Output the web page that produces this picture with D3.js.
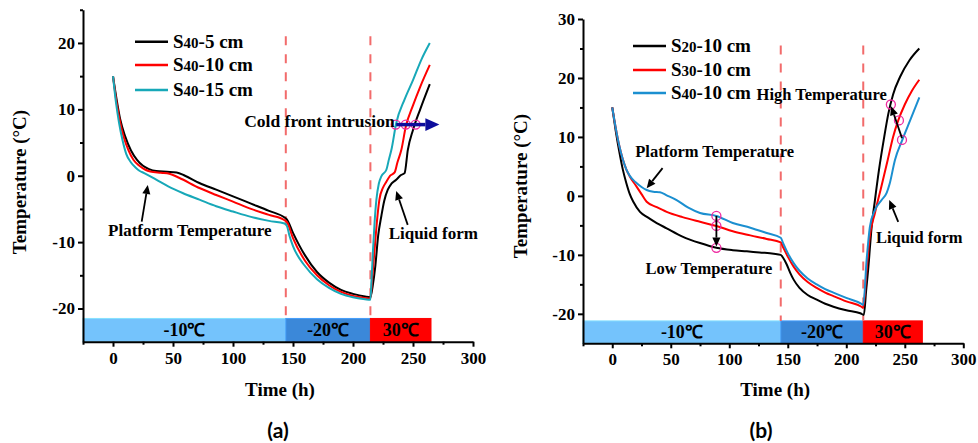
<!doctype html>
<html>
<head>
<meta charset="utf-8">
<script src="https://d3js.org/d3.v7.min.js"></script>
<style>
  body { margin: 0; background: #fff; }
  text { font-family: "Liberation Serif", "Times New Roman", serif; font-weight: bold; fill: #000; }
  .panel-label { font-family: Lato, "Open Sans", sans-serif; font-size: 21px; font-weight: bold; }
</style>
</head>
<body>
<svg id="svg1" width="978" height="443"></svg>
<script>
// ---- data (time h, temperature C) ----
let a5cm = [[0,15],[3,11.5],[6,8.5],[10,6],[15,3.8],[20,2.4],[25,1.5],[30,1.0],[36,0.7],[45,0.6],[53,0.5],[60,0],[72,-1.1],[86,-2.1],[100,-3.1],[115,-4.2],[130,-5.3],[143,-6.3],[145,-6.6],[150,-8.6],[160,-12],[170,-14.5],[180,-16.1],[190,-17.2],[200,-17.8],[210,-18.2],[214.5,-18.3],[216.5,-16.5],[218.6,-13.6],[221,-9],[223.6,-6.1],[226,-3.8],[229,-2.1],[232,-1.2],[236,-0.6],[240,0.1],[243,0.4],[245.7,3.9],[250,6.9],[256,10],[264,13.8]];
let a10cm = [[0,15],[3,11],[6,8],[9,5.8],[13,3.8],[17,2.4],[22,1.5],[27,0.9],[31,0.65],[40,0.45],[47,0.3],[55,-0.3],[72,-1.85],[86,-2.9],[100,-3.9],[115,-5],[130,-5.9],[143,-6.7],[145,-7],[150,-9.4],[160,-12.8],[170,-15],[180,-16.5],[190,-17.5],[200,-18.1],[210,-18.4],[214.5,-18.5],[216,-15.5],[218,-11.1],[220,-6.8],[222,-3.6],[225,-1.8],[227.8,-0.9],[231,0],[234.7,0.5],[237,2],[240.3,3.9],[244,7.4],[250,10.6],[256,13.4],[264,16.7]];
let a15cm = [[0,15],[2.5,11],[5,8],[8,5.3],[11,3.3],[15,2.0],[19,1.2],[22,0.75],[26,0.4],[36,-0.6],[46,-1.6],[58,-2.6],[72,-3.6],[86,-4.6],[100,-5.4],[115,-6.2],[130,-6.8],[143,-7.2],[145,-7.6],[147,-9],[150,-10.6],[160,-13.6],[170,-15.6],[180,-16.9],[190,-17.8],[200,-18.3],[210,-18.6],[214.5,-18.7],[215.5,-15.5],[216.7,-11.1],[218,-7],[219.5,-3.6],[221.5,-1.2],[223.6,-0.1],[227.8,0.9],[230,2.5],[232,3.9],[236,7.9],[243,11.5],[250,14.4],[257,17.5],[264,20]];

let b20 = [[0,15],[3,11],[6,7.5],[9,4.5],[12,2.2],[15,0.3],[18,-1],[23.7,-2.7],[30,-3.6],[38,-4.6],[46.5,-5.5],[60,-6.9],[75,-8],[89,-8.8],[103,-9.2],[115,-9.4],[126,-9.6],[138,-9.8],[144,-10],[146,-10.5],[149,-11.6],[152,-13],[155,-14.2],[160,-15.6],[167,-16.8],[174.7,-17.6],[182,-18.3],[189,-18.8],[200,-19.4],[212,-19.9],[215,-20.2],[217,-16],[218.7,-12.5],[221.7,-5.2],[224.5,-0.7],[228,4.5],[232,9.5],[236,14],[240,17.2],[246,20.2],[254,23],[262.4,25]];
let b30 = [[0,15],[3,11.5],[6,8.5],[9,6.2],[12,4.5],[15,3.3],[20,1.8],[25,0.3],[29.4,-1],[38,-1.9],[46.5,-2.7],[60,-3.6],[75,-4.4],[89,-5.1],[103,-6],[118,-6.7],[132,-7.3],[144,-7.9],[146,-8.7],[150,-10.3],[155,-12],[160,-13.3],[167,-14.6],[174.7,-15.6],[182,-16.4],[189,-17],[200,-17.9],[213,-18.8],[214.5,-19],[217.4,-12.5],[220,-7],[224.5,-2.9],[230,1.6],[235.4,6.1],[240,10],[244.4,12.8],[250,15.5],[256,17.8],[262.4,19.7]];
let b40 = [[0,15],[3,11.5],[6,8.5],[9,6.2],[12,4.5],[15,3.4],[20,2.3],[25,1.5],[29.4,1.0],[35,0.7],[40.8,0.6],[46.5,0.1],[55,-0.7],[65,-2],[75,-2.9],[89,-3.4],[103,-4.6],[118,-5.4],[132,-6.3],[144,-7.1],[146,-8],[150,-9.7],[155,-11.4],[160,-12.7],[167,-14],[174.7,-15],[182,-15.8],[189,-16.4],[200,-17.3],[213,-18.3],[214.5,-18.5],[217.4,-10.8],[220.2,-5.2],[224.5,-2.4],[230.2,-0.7],[234.5,0.5],[237,2],[241.6,6.1],[247.9,9.5],[255,13],[262.4,16.7]];

// temperature stages: [start, end, label]
let stages = [[-25,144,"-10℃"],[144,214.5,"-20℃"],[214.5,265,"30℃"]];
let stageColors = ["#74c3fc","#3b88d9","#ff0000"];
let phaseLines = [144, 214.5];

let legendA = [["40","-5 cm"],["40","-10 cm"],["40","-15 cm"]];
let legendB = [["20","-10 cm"],["30","-10 cm"],["40","-10 cm"]];

let circlesA = [[235.6,7.7],[244,7.7],[252.2,7.7]];
let circlesB = [[238.1,15.5],[245,12.8],[247.6,9.5],[89,-3.4],[89,-5.1],[89,-8.8]];

let svg = d3.select("#svg1");
let serif = '"Liberation Serif", "Times New Roman", serif';

function drawPanel(p) {
  let g = svg.append("g");
  let x = d3.scaleLinear().domain([-25,300]).range(p.xr);
  let y = d3.scaleLinear().domain(p.yd).range(p.yr);

  // stage bars
  g.selectAll(".stage").data(stages).join("rect")
    .attr("x", d => x(d[0])).attr("width", d => x(d[1]) - x(d[0]))
    .attr("y", y(p.barTop)).attr("height", y(-25) - y(p.barTop))
    .attr("fill", (d,i) => stageColors[i])
    .attr("stroke", (d,i) => d3.color(stageColors[i]).brighter(0.4)).attr("stroke-width", 1);
  g.selectAll(".stagelbl").data(stages).join("text")
    .attr("x", d => (x(d[0]) + x(d[1])) / 2).attr("y", (y(p.barTop) + y(-25)) / 2 + 6)
    .attr("text-anchor", "middle").style("font-family", serif).style("font-size", "18px").text(d => d[2]);

  // phase change dashed lines
  g.selectAll(".phase").data(phaseLines).join("line")
    .attr("x1", d => x(d)).attr("x2", d => x(d))
    .attr("y1", y(p.dashTop)).attr("y2", y(p.barTop))
    .attr("stroke", "#f26b6b").attr("stroke-width", 2).attr("stroke-dasharray", "9,9");

  // axes
  let fmt = d => String(d);
  g.append("g").attr("transform", `translate(0,${y(-25)})`)
    .call(d3.axisBottom(x).tickValues(d3.range(0,301,50)).tickFormat(fmt).tickSize(5).tickSizeOuter(0).tickPadding(5));
  g.append("g").attr("transform", `translate(0,${y(-25)})`)
    .call(d3.axisBottom(x).tickValues(d3.range(-25,300,50)).tickSize(3).tickFormat("").tickSizeOuter(0))
    .select(".domain").remove();
  g.append("g").attr("transform", `translate(${x(-25)},0)`)
    .call(d3.axisLeft(y).tickValues(p.yTicks).tickFormat(fmt).tickSize(5).tickSizeOuter(0).tickPadding(3));
  g.append("g").attr("transform", `translate(${x(-25)},0)`)
    .call(d3.axisLeft(y).tickValues(p.yMinor).tickSize(3).tickFormat("").tickSizeOuter(0))
    .select(".domain").remove();
  g.selectAll(".domain, .tick line").attr("stroke", "#000").attr("stroke-width", 2);
  g.selectAll(".tick text").style("font-family", serif).style("font-size", "17px").style("font-weight", "bold");

  g.append("text").attr("x", (p.xr[0] + p.xr[1]) / 2 + 2).attr("y", 396)
    .attr("text-anchor", "middle").attr("font-size", 19).text("Time (h)");
  g.append("text").attr("transform", `translate(${p.ylx},${p.yly}) rotate(-90)`)
    .attr("text-anchor", "middle").attr("font-size", 19).text("Temperature (°C)");
  g.append("text").attr("class", "panel-label").attr("x", p.plx).attr("y", 438)
    .attr("text-anchor", "middle").text(p.label);

  // curves
  let line = d3.line().x(d => x(d[0])).y(d => y(d[1])).curve(d3.curveMonotoneX);
  p.series.forEach((s, i) => {
    g.append("path").datum(s).attr("d", line)
      .attr("fill", "none").attr("stroke", p.colors[i]).attr("stroke-width", 2);
  });

  // legend
  p.legend.forEach((l, i) => {
    let ly = p.legY[i];
    g.append("line").attr("x1", p.legX).attr("x2", p.legX + 33).attr("y1", ly).attr("y2", ly)
      .attr("stroke", p.colors[i]).attr("stroke-width", 2.5);
    let t = g.append("text").attr("x", p.legX + 38).attr("y", ly + 6).attr("font-size", 19);
    t.append("tspan").text("S");
    t.append("tspan").attr("font-size", 15).text(l[0]);
    t.append("tspan").text(l[1]);
  });

  // marker circles
  g.selectAll(".mk").data(p.circles).join("circle")
    .attr("cx", d => x(d[0])).attr("cy", d => y(d[1])).attr("r", 4.5)
    .attr("fill", "none").attr("stroke", "#ee2aa0").attr("stroke-width", 1.3);

  // annotations
  p.notes.forEach(n => {
    g.append("text").attr("x", x(n.tx)).attr("y", y(n.ty)).attr("text-anchor", n.anchor || "middle")
      .attr("font-size", n.size || 16.5).text(n.text);
    if (n.arrow) drawArrow(g, x(n.arrow[0]), y(n.arrow[1]), x(n.arrow[2]), y(n.arrow[3]), n.color || "#000", n.w || 1.8, n.head || 9);
  });
}

function drawArrow(g, x1, y1, x2, y2, color, w, head) {
  let ang = Math.atan2(y2 - y1, x2 - x1);
  let bx = x2 - head * Math.cos(ang), by = y2 - head * Math.sin(ang);
  g.append("line").attr("x1", x1).attr("y1", y1).attr("x2", bx).attr("y2", by)
    .attr("stroke", color).attr("stroke-width", w);
  let hw = head * 0.45;
  let pts = [[x2, y2],
    [bx + hw * Math.sin(ang), by - hw * Math.cos(ang)],
    [bx - hw * Math.sin(ang), by + hw * Math.cos(ang)]];
  g.append("polygon").attr("points", pts.map(q => q.join(",")).join(" ")).attr("fill", color);
}

drawPanel({
  xr: [83, 473], yd: [-25, 25], yr: [341.7, 9.75],
  yTicks: [-20, -10, 0, 10, 20], yMinor: [-15, -5, 5, 15, 25],
  barTop: -21.5, dashTop: 21,
  ylx: 26, yly: 182, plx: 278, label: "(a)",
  series: [a5cm, a10cm, a15cm], colors: ["#000000", "#ff0000", "#17a8b8"],
  legend: legendA, legX: 135, legY: [41.7, 65, 90],
  circles: circlesA,
  notes: [
    { text: "Cold front intrusion", tx: 234.7, ty: 7.3, anchor: "end", size: 17.5, arrow: [236, 7.7, 272, 7.7], color: "#0d0d9c", w: 3.5, head: 14 },
    { text: "Platform Temperature", tx: 64, ty: -9.1, size: 17, arrow: [23.9, -6.9, 29, -1.4] },
    { text: "Liquid form", tx: 229.7, ty: -9.6, anchor: "start", size: 17, arrow: [245.6, -7.4, 236, -2.3] }
  ]
});

drawPanel({
  xr: [583, 963.3], yd: [-25, 30], yr: [343.3, 19],
  yTicks: [-20, -10, 0, 10, 20, 30], yMinor: [-15, -5, 5, 15, 25],
  barTop: -21.2, dashTop: 25.5,
  ylx: 527, yly: 186, plx: 761, label: "(b)",
  series: [b20, b30, b40], colors: ["#000000", "#ff0000", "#1b8fd0"],
  legend: legendB, legX: 633, legY: [46, 70, 93],
  circles: circlesB,
  notes: [
    { text: "High Temperature", tx: 179, ty: 16.3, arrow: [247.6, 9.8, 238.3, 15.2] },
    { text: "Platform Temperature", tx: 87.5, ty: 6.6, arrow: [43, 4.7, 29.4, 1.3] },
    { text: "Low Temperature", tx: 82.6, ty: -13.2, arrow: [89, -3.4, 89, -8.6] },
    { text: "Liquid form", tx: 225.3, ty: -8, anchor: "start", arrow: [244.4, -4.4, 236.7, -0.7] }
  ]
});
</script>
</body>
</html>
